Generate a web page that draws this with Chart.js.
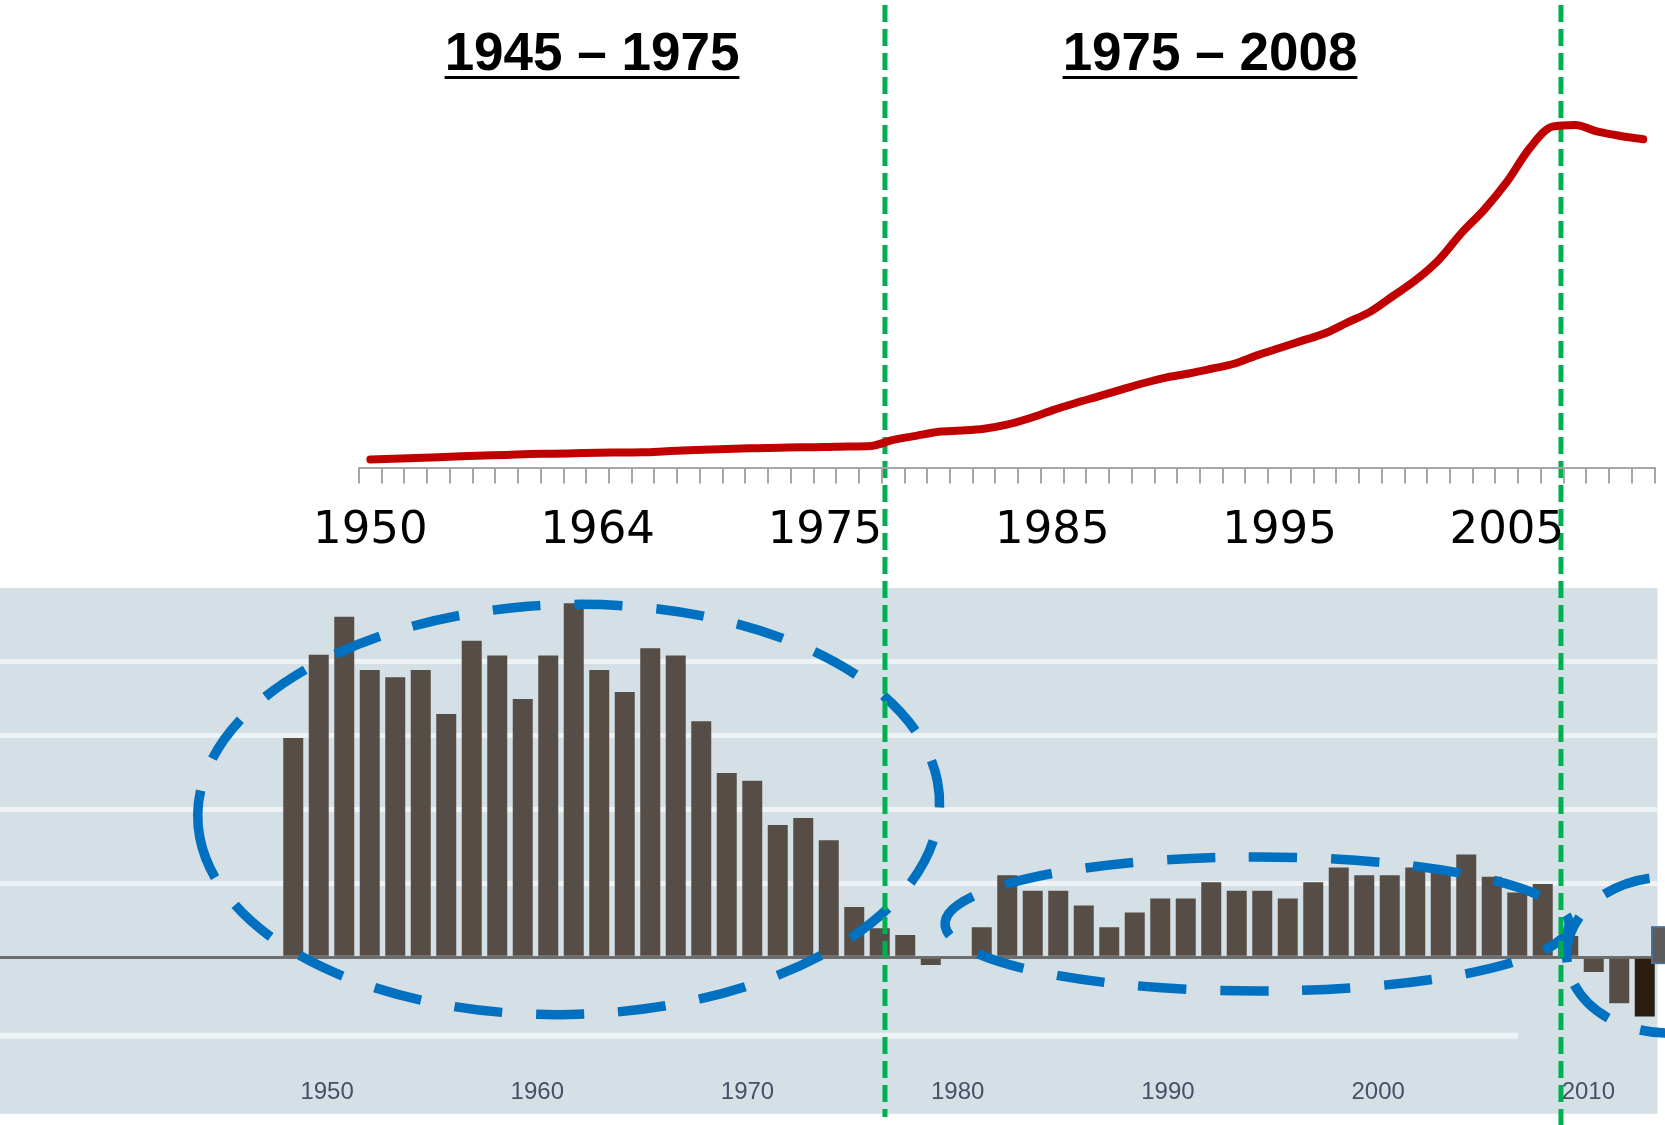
<!DOCTYPE html>
<html>
<head>
<meta charset="utf-8">
<script src="https://cdn.jsdelivr.net/npm/chart.js@4.4.0/dist/chart.umd.min.js"></script>
<style>
  html, body { margin: 0; padding: 0; background: #ffffff; overflow: hidden; }
  body { position: relative; width: 1665px; height: 1125px; }
  canvas { position: absolute; left: 0; top: 0; }
  #barCanvas { z-index: 0; }
  #lineCanvas { z-index: 1; }
  .period {
    position: absolute; z-index: 2; top: 25px;
    transform: translateX(-50%);
    font-family: "Liberation Sans", Arial, sans-serif; font-weight: bold;
    font-size: 53px; line-height: 53px; color: #000; white-space: nowrap;
    text-decoration: underline; text-decoration-thickness: 3px; text-underline-offset: 6px;
  }
</style>
</head>
<body>
<canvas id="barCanvas" width="1665" height="1150"></canvas>
<canvas id="lineCanvas" width="1665" height="580"></canvas>
<div class="period" style="left:592px">1945 – 1975</div>
<div class="period" style="left:1210px">1975 – 2008</div>
<script>
// ---------------- DATA ----------------
// Top panel: categories of the line chart (one tick per category)
const lineYears = ['1950','1952','1953','1955','1956','1957','1959','1960','1961','1963',
  '1964','1965','1966','1967','1968','1969','1970','1971','1972','1973',
  '1975','1976','1977','1978','1979','1980','1981','1982','1983','1984',
  '1985','1986','1987','1988','1989','1990','1991','1992','1993','1994',
  '1995','1996','1997','1998','1999','2000','2001','2002','2003','2004',
  '2005','2006','2007','2008','2009','2010','2011'];
// Line series
const lineValues = [0.34, 0.37, 0.40, 0.43, 0.47, 0.50, 0.53, 0.57, 0.58, 0.60,
  0.62, 0.63, 0.64, 0.68, 0.72, 0.76, 0.79, 0.81, 0.83, 0.85,
  0.86, 0.88, 0.90, 1.16, 1.33, 1.50, 1.55, 1.63, 1.80, 2.07,
  2.40, 2.70, 2.98, 3.26, 3.54, 3.78, 3.95, 4.15, 4.36, 4.71,
  5.02, 5.33, 5.64, 6.10, 6.55, 7.21, 7.88, 8.72, 9.85, 10.83,
  12.00, 13.41, 14.32, 14.39, 14.11, 13.93, 13.79];
// Tick labels shown on the top axis
const lineTickLabels = ['1950','1964','1975','1985','1995','2005'];

// Bottom panel: empty leading slots, then one slot per bar
const leadingSlots = ['','','','','','','','','','',''];
const barYears = ['1959','1960','1961','1962','1963','1964','1965','1966','1967','1968',
  '1969','1970','1971','1972','1973','1974','1975','1976','1977','1978',
  '1979','1980','1981','1982','1983','1984','1985','1986','1987','1988',
  '1989','1990','1991','1992','1993','1994','1995','1996','1997','1998',
  '1999','2000','2001','2002','2003','2004','2005','2006','2007','2008',
  '2009','2010','2011','2012'];
const barValues = [5.94, 8.19, 9.22, 7.78, 7.58, 7.78, 6.59, 8.57, 8.17, 6.99,
  8.17, 9.59, 7.78, 7.18, 8.37, 8.17, 6.39, 4.99, 4.78, 3.58,
  3.77, 3.17, 1.36, 0.78, 0.60, -0.21, 0, 0.81, 2.22, 1.80,
  1.80, 1.40, 0.81, 1.21, 1.59, 1.59, 2.03, 1.80, 1.80, 1.59,
  2.03, 2.43, 2.22, 2.22, 2.43, 2.43, 2.78, 2.18, 1.75, 1.98,
  0.57, -0.40, -1.25, -1.61];
// Tick labels of the bottom axis
const barTickYears = [1950, 1960, 1970, 1980, 1990, 2000, 2010];
// Horizontal grid values of the bottom panel
const barGridValues = [0, 2, 4, 6, 8];

// ---------------- LAYOUT / STYLE ----------------
const RED = '#c00000', GREEN = '#00b050', BLUE = '#0070c0';
const PANEL_BG = '#d4e0e6', GRID_LIGHT = '#edf2f5', ZERO_LINE = '#6e6e6e';
const BAR = '#564d46', BAR_LAST = '#2b1d0f';

// ---------------- TOP LINE CHART ----------------
const lineChart = new Chart(document.getElementById('lineCanvas'), {
  type: 'line',
  data: {
    labels: lineYears,
    datasets: [{
      data: lineValues,
      borderColor: RED,
      borderWidth: 8,
      pointRadius: 0,
      cubicInterpolationMode: 'monotone',
      borderCapStyle: 'round',
      borderJoinStyle: 'round',
      fill: false
    }]
  },
  options: {
    responsive: false,
    animation: false,
    devicePixelRatio: 1,
    layout: { padding: { left: 359, right: 10.4, top: 86.7, bottom: 0.5 } },
    plugins: { legend: { display: false }, tooltip: { enabled: false } },
    scales: {
      x: {
        type: 'category',
        offset: true,
        grid: { offset: true, drawOnChartArea: false, drawTicks: true, tickLength: 16, color: '#a6a6a6', lineWidth: 2 },
        border: { display: true, color: '#a6a6a6', width: 2 },
        ticks: {
          autoSkip: false, maxRotation: 0, minRotation: 0, padding: 21,
          color: '#000000',
          font: { family: 'DejaVu Sans', size: 45 },
          callback: function (v) {
            const lab = this.getLabelForValue(v);
            return lineTickLabels.includes(lab) ? lab : '';
          }
        }
      },
      y: { display: false, min: 0, max: 16 }
    }
  }
});

// ---------------- ANNOTATIONS (positions in scale units) ----------------
const dividers = [
  { at: 22.64, y0: 5, y1: 1117 },   // in top-chart category units
  { at: 52.38, y0: 5, y1: 1125 }
];
const ellipses = [
  { cx: 21.8, cy: 4.0, rx: 371, ry: 205, rot: -0.025 },  // in bar-chart units
  { cx: 48.8, cy: 0.9, rx: 312, ry: 67, rot: 0 },
  { cx: 64.9, cy: 0.06, rx: 101, ry: 78, rot: 0 }
];

const panelPlugin = {
  id: 'panel',
  beforeDraw(chart) {
    const { ctx, chartArea: a } = chart;
    ctx.save();
    ctx.fillStyle = PANEL_BG;
    ctx.fillRect(0, a.top, a.right, (a.bottom + 78) - a.top);
    ctx.restore();
  },
  beforeDatasetsDraw(chart) {
    const { ctx, chartArea: a } = chart;
    ctx.save();
    ctx.strokeStyle = GRID_LIGHT;
    ctx.lineWidth = 6;
    ctx.beginPath();
    ctx.moveTo(0, a.bottom);
    ctx.lineTo(1518, a.bottom);
    ctx.stroke();
    ctx.restore();
  },
  afterDraw(chart) {
    const { ctx, chartArea: a } = chart;
    const xs = chart.scales.x, ys = chart.scales.y;
    ctx.save();
    // small grey marker box at the right edge
    const y0 = ys.getPixelForValue(0);
    ctx.fillStyle = '#5b5b5b';
    ctx.strokeStyle = '#4e6e96';
    ctx.lineWidth = 2;
    ctx.fillRect(a.right - 5.5, y0 - 30, 20, 36);
    ctx.strokeRect(a.right - 5.5, y0 - 30, 20, 36);
    // dashed ellipses
    ctx.strokeStyle = BLUE;
    ctx.lineWidth = 9.5;
    ctx.setLineDash([48, 34]);
    ellipses.forEach(e => {
      ctx.beginPath();
      ctx.ellipse(xs.getPixelForValue(e.cx), ys.getPixelForValue(e.cy), e.rx, e.ry, e.rot, Math.PI * 0.97, Math.PI * 2.97);
      ctx.stroke();
    });
    // green dashed dividers
    ctx.strokeStyle = GREEN;
    ctx.lineWidth = 5;
    ctx.setLineDash([17, 7]);
    dividers.forEach(d => {
      const x = lineChart.scales.x.getPixelForValue(d.at);
      ctx.beginPath();
      ctx.moveTo(x, d.y0);
      ctx.lineTo(x, d.y1);
      ctx.stroke();
    });
    ctx.restore();
  }
};

// ---------------- BOTTOM BAR CHART ----------------
const barLabels = leadingSlots.concat(barYears);
const barData = leadingSlots.map(() => null).concat(barValues);
const lastIdx = barLabels.length - 1;

const barChart = new Chart(document.getElementById('barCanvas'), {
  type: 'bar',
  data: {
    labels: barLabels,
    datasets: [{
      data: barData,
      backgroundColor: ctx => ctx.dataIndex === lastIdx ? BAR_LAST : BAR,
      borderWidth: 0,
      categoryPercentage: 1,
      barPercentage: 0.784
    }]
  },
  options: {
    responsive: false,
    animation: false,
    devicePixelRatio: 1,
    layout: { padding: { left: 0, right: 7.5, top: 588, bottom: 1.4 } },
    plugins: { legend: { display: false }, tooltip: { enabled: false } },
    scales: {
      x: { type: 'category', display: false, offset: true },
      yr: {
        type: 'linear', position: 'bottom', axis: 'x',
        offset: false,
        min: 1934.44, max: 2013.29,
        afterBuildTicks: s => { s.ticks = barTickYears.map(v => ({ value: v })); },
        grid: { display: false, drawTicks: false, offset: false },
        border: { display: false },
        ticks: {
          padding: 42, maxRotation: 0, autoSkip: false,
          color: '#475066',
          font: { family: 'Liberation Sans', size: 24 },
          callback: v => String(v)
        }
      },
      y: {
        min: -2.13, max: 10,
        afterBuildTicks: s => { s.ticks = barGridValues.map(v => ({ value: v })); },
        ticks: { display: false },
        border: { display: false },
        grid: {
          drawTicks: false,
          color: c => c.tick && c.tick.value === 0 ? ZERO_LINE : GRID_LIGHT,
          lineWidth: c => c.tick && c.tick.value === 0 ? 3 : 5
        }
      }
    }
  },
  plugins: [panelPlugin]
});
</script>
</body>
</html>
